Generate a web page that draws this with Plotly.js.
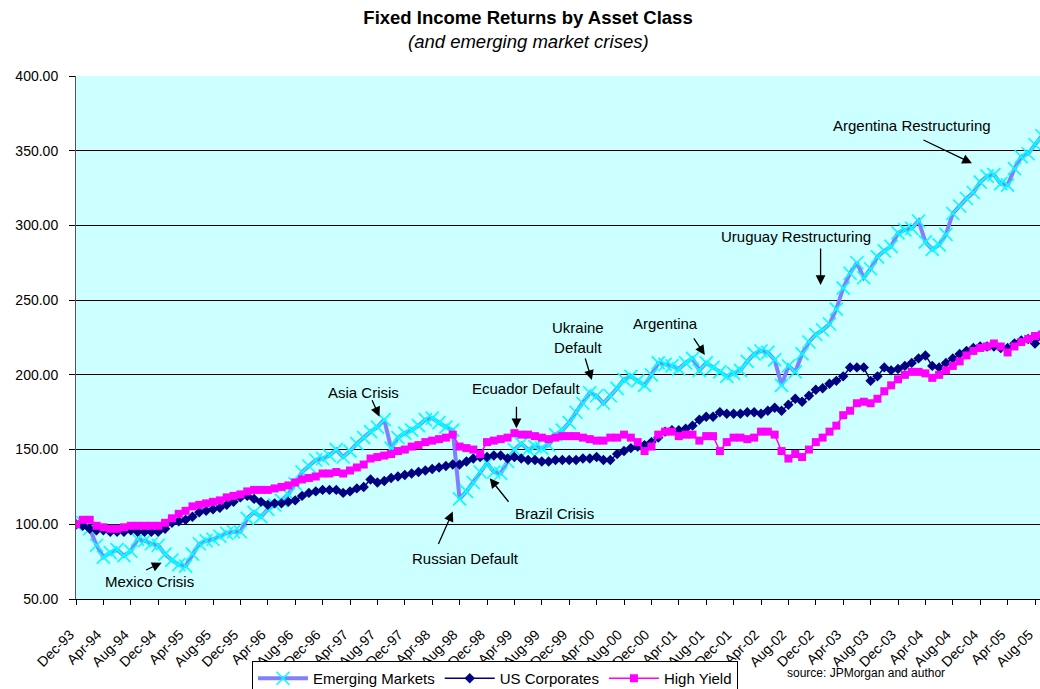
<!DOCTYPE html>
<html>
<head>
<meta charset="utf-8">
<script src="https://cdn.plot.ly/plotly-3.0.1.min.js"></script>
<style>
html,body{margin:0;padding:0;background:#ffffff;}
#chart{width:1040px;height:689px;}
</style>
</head>
<body>
<div id="chart"></div>
<script>
// Monthly categories, Dec-93 .. Sep-05
const months = [
 "Dec-93",
 "Jan-94","Feb-94","Mar-94","Apr-94","May-94","Jun-94","Jul-94","Aug-94","Sep-94","Oct-94","Nov-94","Dec-94",
 "Jan-95","Feb-95","Mar-95","Apr-95","May-95","Jun-95","Jul-95","Aug-95","Sep-95","Oct-95","Nov-95","Dec-95",
 "Jan-96","Feb-96","Mar-96","Apr-96","May-96","Jun-96","Jul-96","Aug-96","Sep-96","Oct-96","Nov-96","Dec-96",
 "Jan-97","Feb-97","Mar-97","Apr-97","May-97","Jun-97","Jul-97","Aug-97","Sep-97","Oct-97","Nov-97","Dec-97",
 "Jan-98","Feb-98","Mar-98","Apr-98","May-98","Jun-98","Jul-98","Aug-98","Sep-98","Oct-98","Nov-98","Dec-98",
 "Jan-99","Feb-99","Mar-99","Apr-99","May-99","Jun-99","Jul-99","Aug-99","Sep-99","Oct-99","Nov-99","Dec-99",
 "Jan-00","Feb-00","Mar-00","Apr-00","May-00","Jun-00","Jul-00","Aug-00","Sep-00","Oct-00","Nov-00","Dec-00",
 "Jan-01","Feb-01","Mar-01","Apr-01","May-01","Jun-01","Jul-01","Aug-01","Sep-01","Oct-01","Nov-01","Dec-01",
 "Jan-02","Feb-02","Mar-02","Apr-02","May-02","Jun-02","Jul-02","Aug-02","Sep-02","Oct-02","Nov-02","Dec-02",
 "Jan-03","Feb-03","Mar-03","Apr-03","May-03","Jun-03","Jul-03","Aug-03","Sep-03","Oct-03","Nov-03","Dec-03",
 "Jan-04","Feb-04","Mar-04","Apr-04","May-04","Jun-04","Jul-04","Aug-04","Sep-04","Oct-04","Nov-04","Dec-04",
 "Jan-05","Feb-05","Mar-05","Apr-05","May-05","Jun-05","Jul-05","Aug-05","Sep-05"
];

const tickLabels = [
 "Dec-93","Apr-94","Aug-94","Dec-94","Apr-95","Aug-95","Dec-95","Apr-96","Aug-96",
 "Dec-96","Apr-97","Aug-97","Dec-97","Apr-98","Aug-98","Dec-98","Apr-99","Aug-99",
 "Dec-99","Apr-00","Aug-00","Dec-00","Apr-01","Aug-01","Dec-01","Apr-02","Aug-02",
 "Dec-02","Apr-03","Aug-03","Dec-03","Apr-04","Aug-04","Dec-04","Apr-05","Aug-05"
];

const seriesNames = ["Emerging Markets", "US Corporates", "High Yield"];

const emergingMarkets = [
 100,101,97,86,78,81,83,79,82,90,89,87,
 86,80,76,73,72,80,87,89,90,92,94,95,
 95,104,108,105,110,113,116,120,127,135,139,143,
 144,146,150,145,149,154,158,162,165,170,151,158,
 161,163,166,170,171,168,165,163,117,122,128,135,
 141,135,134,142,150,154,150,152,151,153,160,163,
 168,175,181,188,186,181,186,191,197,199,196,193,
 200,208,207,206,204,208,211,203,208,205,202,199,
 201,203,209,214,216,215,210,193,206,202,214,222,
 227,230,234,244,258,268,275,265,271,279,283,286,
 295,297,298,303,289,284,287,294,308,313,318,322,
 329,333,334,328,327,338,346,348,354,360
];

const usCorporates = [
 100,99,97,96,96,95,95,95,96,95,95,95,
 95,97,101,102,103,105,108,109,110,111,113,115,
 118,119,117,115,113,114,114,115,116,119,121,122,
 123,123,123,121,122,124,125,130,128,129,131,132,
 133,134,135,136,137,138,139,140,140,142,144,145,
 145,146,146,144,145,144,143,143,142,142,143,143,
 143,143,144,144,145,143,143,147,149,151,152,153,
 155,158,162,163,163,164,166,170,172,172,175,174,
 174,174,175,175,174,176,178,176,180,184,182,186,
 190,191,194,196,199,205,205,205,196,199,205,203,
 204,206,208,211,213,206,205,208,211,214,216,218,
 219,219,219,218,218,221,223,224,221,225
];

const highYield = [
 100,103,103,99,98,97,97,98,99,99,99,99,
 99,101,104,107,109,112,113,114,115,116,118,119,
 120,122,123,123,123,124,125,126,128,130,131,132,
 134,134,135,134,136,138,140,144,145,146,147,149,
 150,152,153,155,156,157,158,160,152,151,150,147,
 155,156,157,158,161,160,160,159,158,157,158,159,
 159,159,158,157,156,156,158,158,160,158,155,149,
 152,160,162,162,159,160,160,156,159,159,149,155,
 158,158,157,158,162,162,160,149,144,147,145,150,
 155,158,162,166,173,176,181,182,181,184,189,193,
 197,200,202,202,201,198,200,203,206,209,213,216,
 218,219,221,219,215,219,222,224,226,227
];

// Event labels and the points their arrows touch (month index, value)
const eventLabels = ["Mexico Crisis","Asia Crisis","Russian Default","Brazil Crisis","Ecuador Default",
  "Ukraine<br>Default","Argentina","Uruguay Restructuring","Argentina Restructuring"];
const labelPos = [[10.8,61.4],[42.0,188.5],[56.9,77.4],[69.8,106.9],[65.7,191.2],
  [73.3,224.7],[86.0,234.7],[105.1,292.3],[122.0,366.6]];
const arrowHeads = [[12.5,74.3],[44.3,172.0],[55.0,108.5],[60.4,130.8],[64.3,164.2],
  [75.3,196.6],[91.8,213.3],[108.7,260.2],[130.8,341.6]];
const arrowTails = [[-17,8],[-8,-18],[-15,34],[20,25],[0,-23],[-7,-23],[-12,-18],[0,-38],[-50,-24]];

const FONT = "Liberation Sans, Arial, Helvetica, sans-serif";

const traces = [
  {
    x: months, y: emergingMarkets, name: seriesNames[0], type: "scatter", mode: "lines+markers",
    line: {color: "#8080FF", width: 4},
    marker: {symbol: "x-thin", size: 13, color: "#00FFFF", line: {color: "#00FFFF", width: 1.6}}
  },
  {
    x: months, y: usCorporates, name: seriesNames[1], type: "scatter", mode: "lines+markers",
    line: {color: "#000080", width: 1.5},
    marker: {symbol: "diamond", size: 8, color: "#000080"}
  },
  {
    x: months, y: highYield, name: seriesNames[2], type: "scatter", mode: "lines+markers",
    line: {color: "#FF00FF", width: 1.5},
    marker: {symbol: "square", size: 8, color: "#FF00FF"}
  }
];

const annotations = [];
for (let i = 0; i < eventLabels.length; i++) {
  annotations.push({
    xref: "x", yref: "y", x: labelPos[i][0], y: labelPos[i][1],
    text: eventLabels[i], showarrow: false,
    font: {family: FONT, size: 15, color: "#000"}, xanchor: "center", yanchor: "middle"
  });
  annotations.push({
    xref: "x", yref: "y", x: arrowHeads[i][0], y: arrowHeads[i][1],
    text: "", showarrow: true, ax: arrowTails[i][0], ay: arrowTails[i][1],
    arrowhead: 2, arrowsize: 1.5, arrowwidth: 1.3, arrowcolor: "#000", standoff: 0
  });
}
annotations.push({
  xref: "paper", yref: "paper", x: (528-76)/964, y: (599-42)/523,
  text: "<i>(and emerging market crises)</i>", showarrow: false,
  font: {family: FONT, size: 18.5, color: "#000"}, xanchor: "center", yanchor: "middle"
});
annotations.push({
  xref: "paper", yref: "paper", x: (866-76)/964, y: (599-673)/523,
  text: "source: JPMorgan and author", showarrow: false,
  font: {family: FONT, size: 12, color: "#000"}, xanchor: "center", yanchor: "middle"
});

const layout = {
  width: 1040, height: 689,
  paper_bgcolor: "#ffffff", plot_bgcolor: "#CCFFFF",
  margin: {l: 76, r: 0, t: 76, b: 90, autoexpand: false},
  font: {family: FONT, color: "#000"},
  title: {
    text: "<b>Fixed Income Returns by Asset Class</b>",
    font: {family: FONT, size: 18.5, color: "#000"},
    xref: "container", yref: "container", x: 528/1040, xanchor: "center",
    y: 1 - 18/689, yanchor: "middle"
  },
  xaxis: {
    type: "category", range: [0, 140.73], tickmode: "array",
    tickvals: tickLabels, ticktext: tickLabels, tickangle: -45,
    ticks: "outside", ticklen: 5, tickcolor: "#000", tickwidth: 1,
    ticklabelstandoff: 16, ticklabelshift: -6,
    showline: true, linecolor: "#000", linewidth: 1,
    showgrid: false, zeroline: false, automargin: false,
    tickfont: {family: FONT, size: 14, color: "#000"}
  },
  yaxis: {
    range: [50, 400], tick0: 50, dtick: 50, tickformat: ".2f",
    ticks: "outside", ticklen: 6, tickcolor: "#000",
    showline: true, linecolor: "#555", linewidth: 1,
    showgrid: true, gridcolor: "#000", gridwidth: 1, zeroline: false, automargin: false,
    ticklabelstandoff: 8,
    tickfont: {family: FONT, size: 14, color: "#000"}
  },
  showlegend: true,
  legend: {
    orientation: "h", xref: "container", yref: "container",
    x: 252/1040, xanchor: "left", y: 1 - 661/689, yanchor: "top",
    bgcolor: "#ffffff", bordercolor: "#000", borderwidth: 1,
    font: {family: FONT, size: 15, color: "#000"}, itemwidth: 50, traceorder: "normal"
  },
  hovermode: false,
  annotations: annotations
};

Plotly.newPlot("chart", traces, layout, {displayModeBar: false, staticPlot: true});
</script>
</body>
</html>
